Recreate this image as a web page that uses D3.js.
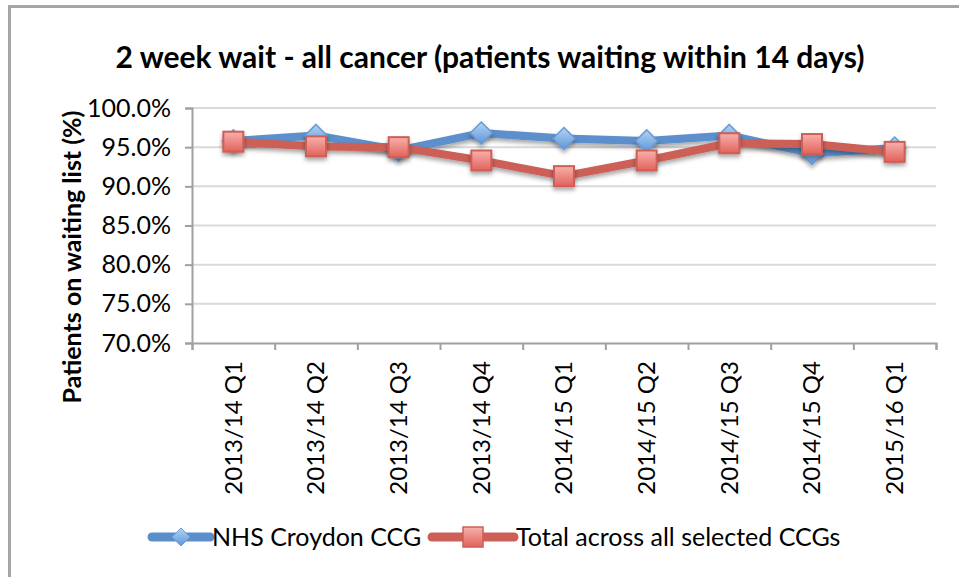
<!DOCTYPE html>
<html>
<head>
<meta charset="utf-8">
<script src="https://cdn.jsdelivr.net/npm/d3@7"></script>
<style>
  html, body { margin: 0; padding: 0; background: #fff; }
  svg { display: block; font-family: Lato, "Open Sans", sans-serif; }
</style>
</head>
<body>
<div id="chart-area"></div>
<script>
// 2 week wait chart

var categories = ["2013/14 Q1", "2013/14 Q2", "2013/14 Q3", "2013/14 Q4", "2014/15 Q1",
                  "2014/15 Q2", "2014/15 Q3", "2014/15 Q4", "2015/16 Q1"];
var croydon = [0.958, 0.965, 0.946, 0.968, 0.961, 0.958, 0.965, 0.942, 0.949];
var total   = [0.957, 0.951, 0.950, 0.933, 0.913, 0.933, 0.955, 0.954, 0.944];
var yTicks  = [0.70, 0.75, 0.80, 0.85, 0.90, 0.95, 1.00];
var seriesNames = ["NHS Croydon CCG", "Total across all selected CCGs"];

var W = 959, H = 577;
var margin = { left: 192, right: 23, top: 108, bottom: 234 },
    width = W - margin.left - margin.right,
    height = H - margin.top - margin.bottom;

var blue = "#5b8fcb", red = "#cc5f57";

var svg = d3.select("#chart-area")
  .append("svg")
    .attr("width", W)
    .attr("height", H);

var defs = svg.append("defs");

var shadow = defs.append("filter")
    .attr("id", "shadow")
    .attr("x", "-30%").attr("y", "-30%")
    .attr("width", "160%").attr("height", "180%");
shadow.append("feDropShadow")
    .attr("dx", 0).attr("dy", 3)
    .attr("stdDeviation", 2)
    .attr("flood-color", "#000")
    .attr("flood-opacity", 0.35);

var gBlue = defs.append("linearGradient").attr("id", "gradBlue")
    .attr("x1", 0).attr("y1", 0).attr("x2", 0).attr("y2", 1);
gBlue.append("stop").attr("offset", "0%").attr("stop-color", "#b3d3f7");
gBlue.append("stop").attr("offset", "100%").attr("stop-color", "#5d96d8");

var gRed = defs.append("linearGradient").attr("id", "gradRed")
    .attr("x1", 0).attr("y1", 0).attr("x2", 0).attr("y2", 1);
gRed.append("stop").attr("offset", "0%").attr("stop-color", "#f8b0ab");
gRed.append("stop").attr("offset", "100%").attr("stop-color", "#e2625b");

// outer chart frame (runs off the right and bottom edge)
svg.append("rect")
    .attr("x", 9.5).attr("y", 6.5)
    .attr("width", W + 20).attr("height", H + 20)
    .attr("fill", "none")
    .attr("stroke", "#a5a5a5")
    .attr("stroke-width", 3);

// title
svg.append("text")
    .attr("x", 490)
    .attr("y", 68)
    .attr("text-anchor", "middle")
    .attr("font-weight", "bold")
    .attr("font-size", 30)
    .attr("fill", "#000")
    .text("2 week wait - all cancer (patients waiting within 14 days)");

var g = svg.append("g")
    .attr("transform", "translate(" + margin.left + "," + margin.top + ")");

var x = d3.scaleBand()
    .domain(categories)
    .range([0, width]);

var xEdges = d3.scaleLinear()
    .domain([0, categories.length])
    .range([0, width]);

var y = d3.scaleLinear()
    .domain([0.7, 1.0])
    .range([height, 0]);

// gridlines
g.append("g")
  .selectAll("line")
  .data(yTicks.slice(1))
  .enter().append("line")
    .attr("x1", 0).attr("x2", width)
    .attr("y1", function(d) { return y(d); })
    .attr("y2", function(d) { return y(d); })
    .attr("stroke", "#d9d9d9")
    .attr("stroke-width", 2);

// y axis
var yAxis = g.append("g")
    .call(d3.axisLeft(y).tickValues(yTicks).tickFormat(d3.format(".1%")).tickSize(7).tickPadding(14));
yAxis.select(".domain").attr("stroke", "#a0a0a0").attr("stroke-width", 2);
yAxis.selectAll(".tick line").attr("stroke", "#a0a0a0").attr("stroke-width", 2);
yAxis.selectAll("text")
    .attr("font-family", "Lato, sans-serif")
    .attr("font-size", 25)
    .attr("fill", "#000");

// x axis: tick marks at category edges
var xEdgeAxis = g.append("g")
    .attr("transform", "translate(0," + height + ")")
    .call(d3.axisBottom(xEdges).ticks(categories.length).tickSize(7).tickFormat(""));
xEdgeAxis.select(".domain").attr("stroke", "#a0a0a0").attr("stroke-width", 2);
xEdgeAxis.selectAll(".tick line").attr("stroke", "#a0a0a0").attr("stroke-width", 2);

// x axis labels at category centres
var xAxis = g.append("g")
    .attr("transform", "translate(0," + height + ")")
    .call(d3.axisBottom(x).tickSize(0));
xAxis.select(".domain").remove();
xAxis.selectAll("text")
    .attr("font-family", "Lato, sans-serif")
    .attr("font-size", 24)
    .attr("fill", "#000")
    .attr("transform", "rotate(-90)")
    .attr("text-anchor", "end")
    .attr("x", -18)
    .attr("y", 0)
    .attr("dy", "0.35em");

// y axis title
svg.append("text")
    .attr("transform", "translate(72,257) rotate(-90)")
    .attr("text-anchor", "middle")
    .attr("font-weight", "bold")
    .attr("font-size", 25)
    .attr("fill", "#000")
    .attr("dy", "0.35em")
    .text("Patients on waiting list (%)");

var line = d3.line()
    .x(function(d, i) { return x(categories[i]) + x.bandwidth() / 2; })
    .y(function(d) { return y(d); });

function diamond(s) {
  return "M0," + (-s) + "L" + s + ",0L0," + s + "L" + (-s) + ",0Z";
}

// Croydon series
g.append("path")
    .datum(croydon)
    .attr("fill", "none")
    .attr("stroke", blue)
    .attr("stroke-width", 8)
    .attr("stroke-linejoin", "round")
    .attr("filter", "url(#shadow)")
    .attr("d", line);

g.append("g").selectAll("path")
    .data(croydon)
    .enter().append("path")
    .attr("transform", function(d, i) {
      return "translate(" + (x(categories[i]) + x.bandwidth() / 2) + "," + y(d) + ")";
    })
    .attr("d", diamond(11))
    .attr("fill", "url(#gradBlue)")
    .attr("stroke", "#6a9ad2")
    .attr("stroke-width", 1.5)
    .attr("filter", "url(#shadow)");

// Total series
g.append("path")
    .datum(total)
    .attr("fill", "none")
    .attr("stroke", red)
    .attr("stroke-width", 8)
    .attr("stroke-linejoin", "round")
    .attr("filter", "url(#shadow)")
    .attr("d", line);

g.append("g").selectAll("rect")
    .data(total)
    .enter().append("rect")
    .attr("x", function(d, i) { return x(categories[i]) + x.bandwidth() / 2 - 10; })
    .attr("y", function(d) { return y(d) - 10; })
    .attr("width", 20)
    .attr("height", 20)
    .attr("fill", "url(#gradRed)")
    .attr("stroke", red)
    .attr("stroke-width", 2)
    .attr("filter", "url(#shadow)");

// legend
var legend = svg.append("g").attr("transform", "translate(0,537)");

var leg1 = legend.append("g").attr("transform", "translate(152,0)");
leg1.append("line")
    .attr("x1", 0).attr("x2", 58)
    .attr("stroke", blue).attr("stroke-width", 9).attr("stroke-linecap", "round");
leg1.append("path")
    .attr("transform", "translate(29,0)")
    .attr("d", diamond(9))
    .attr("fill", "url(#gradBlue)")
    .attr("stroke", "#6a9ad2");
leg1.append("text")
    .attr("x", 60).attr("dy", "0.35em")
    .attr("font-size", 25)
    .attr("fill", "#000")
    .text(seriesNames[0]);

var leg2 = legend.append("g").attr("transform", "translate(432,0)");
leg2.append("line")
    .attr("x1", 0).attr("x2", 82)
    .attr("stroke", red).attr("stroke-width", 9).attr("stroke-linecap", "round");
leg2.append("rect")
    .attr("x", 31).attr("y", -10)
    .attr("width", 20).attr("height", 20)
    .attr("fill", "url(#gradRed)")
    .attr("stroke", red)
    .attr("stroke-width", 1.5);
leg2.append("text")
    .attr("x", 84).attr("dy", "0.35em")
    .attr("font-size", 25)
    .attr("fill", "#000")
    .text(seriesNames[1]);
</script>
</body>
</html>
